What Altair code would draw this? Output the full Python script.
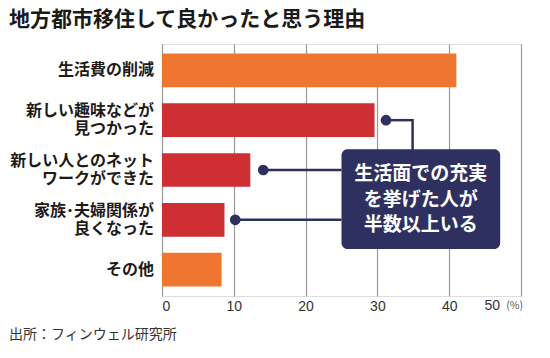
import altair as alt
import pandas as pd

# ---- data ----
categories = ["生活費の削減", "新しい趣味などが見つかった", "新しい人とのネットワークができた",
              "家族･夫婦関係が良くなった", "その他"]
label_text = ["生活費の削減", "新しい趣味などが\n見つかった", "新しい人とのネット\nワークができた",
              "家族･夫婦関係が\n良くなった", "その他"]
values = [41.0, 29.6, 12.3, 8.7, 8.3]
bar_colors = ["#EE7631", "#CE2F33", "#CE2F33", "#CE2F33", "#EE7631"]
x_ticks = [0, 10, 20, 30, 40, 50]

title_text = "地方都市移住して良かったと思う理由"
source_text = "出所：フィンウェル研究所"
callout_text = "生活面での充実\nを挙げた人が\n半数以上いる"

# callout connectors (data units on x)
dot_cats = [categories[1], categories[2], categories[3]]
dot_x = [31.2, 14.1, 10.2]
line_end_x = [34.9, 25.0, 25.0]
box_x = [25.0]
box_x2 = [47.1]

NAVY = "#2E305F"
FONT = "Noto Sans CJK JP"
LABEL_LH = 18.5

df = pd.DataFrame({"cat": categories, "label": label_text, "value": values})
df["lines"] = df["label"].str.count("\n") + 1
dots = pd.DataFrame({"cat": dot_cats, "x": dot_x, "x2": line_end_x})

W, H = 359, 252

xscale = alt.Scale(domain=[0, 50], nice=False, zero=True)
yscale = alt.Scale(domain=categories, paddingInner=0.323, paddingOuter=0.19)
Y = alt.Y("cat:N", scale=yscale, axis=None, sort=categories)

xaxis = alt.Axis(values=x_ticks, grid=True, gridColor="#9a9a9a", gridWidth=1.2,
                 domain=False, ticks=False, labelFont="Liberation Sans", labelFontSize=14,
                 labelColor="#333333", labelBaseline="middle", labelPadding=10,
                 labelExpr="datum.value == 50 ? '' : datum.label", title=None)

bars = alt.Chart(df).mark_bar().encode(
    x=alt.X("value:Q", scale=xscale, axis=xaxis),
    y=Y,
    color=alt.Color("cat:N", scale=alt.Scale(domain=categories, range=bar_colors), legend=None),
)

label_style = dict(align="right", baseline="middle", font=FONT, fontSize=16, fontWeight="bold",
                   color="#1f1a17", lineBreak="\n", lineHeight=LABEL_LH)

ylabels1 = alt.Chart(df).transform_filter("datum.lines == 1").mark_text(**label_style).encode(
    x=alt.value(-8), y=Y, text="label:N",
)
ylabels2 = alt.Chart(df).transform_filter("datum.lines == 2").mark_text(
    dy=-LABEL_LH / 2, **label_style
).encode(
    x=alt.value(-8), y=Y, text="label:N",
)

hlines = alt.Chart(dots).mark_rule(color=NAVY, strokeWidth=2.5).encode(
    x="x:Q", x2="x2:Q", y=Y,
)

vline = alt.Chart(pd.DataFrame({"x": [line_end_x[0]]})).mark_rule(color=NAVY, strokeWidth=2.5).encode(
    x="x:Q", y=alt.value(75), y2=alt.value(106),
)

points = alt.Chart(dots).mark_point(filled=True, color=NAVY, size=115, opacity=1).encode(
    x="x:Q", y=Y,
)

box = alt.Chart(pd.DataFrame({"x": box_x, "x2": box_x2})).mark_rect(
    color=NAVY, cornerRadius=6
).encode(x="x:Q", x2="x2:Q", y=alt.value(105.3), y2=alt.value(205))

callout = alt.Chart(pd.DataFrame({"t": [callout_text], "x": [(box_x[0] + box_x2[0]) / 2]})).mark_text(
    align="center", baseline="middle", font=FONT, fontSize=19, fontWeight="bold",
    color="white", lineBreak="\n", lineHeight=25.7,
).encode(x="x:Q", y=alt.value(130), text="t:N")

fifty = alt.Chart(pd.DataFrame({"x": [50], "t": ["50"]})).mark_text(
    align="right", baseline="middle", font="Liberation Sans", fontSize=14, color="#333333", dx=-21,
).encode(x="x:Q", y=alt.value(262), text="t:N")

pct = alt.Chart(pd.DataFrame({"x": [50], "t": ["(%)"]})).mark_text(
    align="right", baseline="middle", font=FONT, fontSize=10.5, color="#555555", dx=2,
).encode(x="x:Q", y=alt.value(262), text="t:N")

title = alt.Chart(pd.DataFrame({"t": [title_text]})).mark_text(
    align="left", baseline="middle", font=FONT, fontSize=21, fontWeight="bold", color="#1a1a1a",
).encode(x=alt.value(-153), y=alt.value(-24.5), text="t:N")

source = alt.Chart(pd.DataFrame({"t": [source_text]})).mark_text(
    align="left", baseline="middle", font=FONT, fontSize=14, color="#333333",
).encode(x=alt.value(-153), y=alt.value(291), text="t:N")

chart = alt.layer(
    bars, ylabels1, ylabels2, hlines, vline, points, box, callout, fifty, pct, title, source
).properties(
    width=W, height=H,
    autosize=alt.AutoSizeParams(type="none"),
    padding={"left": 154, "top": 36, "right": 21, "bottom": 54},
).configure_view(strokeWidth=0).configure(background="white")

chart.save("out.html", embed_options={"renderer": "svg", "actions": False})
